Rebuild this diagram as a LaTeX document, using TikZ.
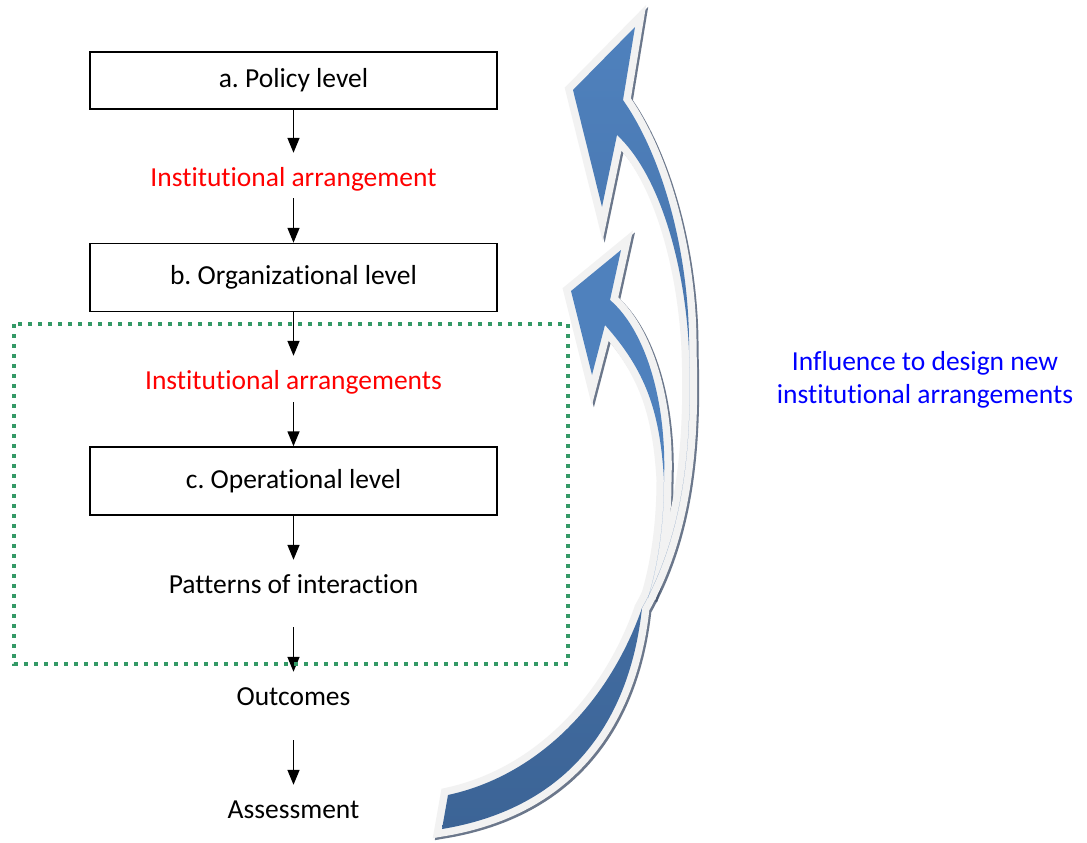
\documentclass[tikz,border=0pt]{standalone}
\usepackage{fontspec}
\setmainfont{Carlito}[Ligatures=NoCommon, RawFeature={-liga;-clig;-calt;-dlig}]
\frenchspacing
\usetikzlibrary{arrows.meta}
\definecolor{boxgreen}{RGB}{51,153,102}
\definecolor{arrtop}{RGB}{79,129,189}
\definecolor{arrbot}{RGB}{60,100,150}
\definecolor{glowc}{RGB}{242,242,242}
\definecolor{shadowc}{RGB}{70,85,110}

% outlines of the two curved feedback arrows (pixel coordinates)
\newcommand{\bigarrowpath}{(635,27) -- (623,100) .. controls (665,160) and (690,260) .. (689,350) .. controls (693,460) and (680,540) .. (642,608) .. controls (630,720) and (570,808) .. (442,829) -- (448,795) .. controls (540,775) and (610,700) .. (642,608) .. controls (680,540) and (693,460) .. (689,350) .. controls (685,265) and (660,175) .. (617,135) -- (602,207) -- (573,90) -- cycle}
\newcommand{\smallarrowpath}{(621,250) -- (610,300) .. controls (645,330) and (667,400) .. (664,480) .. controls (664,525) and (658,565) .. (648,598) .. controls (658,565) and (664,525) .. (664,480) .. controls (660,410) and (645,370) .. (605,325) -- (592,375) -- (571,291) -- cycle}

\begin{document}
\begin{tikzpicture}[x=1pt, y=-1pt,
  font=\fontsize{27.5}{33}\selectfont,
  lvlbox/.style={draw, line width=1.5, minimum width=407, minimum height=68, inner sep=0},
  plaintxt/.style={inner sep=0, minimum height=54, text height=20, text depth=7},
  redtxt/.style={plaintxt, text=red},
  conn/.style={-{Triangle[length=15pt,width=12pt]}, line width=1.5},
  arrshadow/.style={draw=shadowc, line width=15, opacity=.8},
  arrglow/.style={draw=glowc, line width=15}]
\useasboundingbox[fill=white] (0,0) rectangle (1087,843);

\node[lvlbox, minimum height=57] (pol) at (293.5,80.5) {a. Policy level};
\node[redtxt] (ia1) at (293.5,180) {Institutional arrangement};
\node[lvlbox] (org) at (293.5,277.5) {b. Organizational level};
\node[redtxt] (ia2) at (293.5,383) {Institutional arrangements};
\node[lvlbox] (ope) at (293.5,481) {c. Operational level};
\node[plaintxt] (pat) at (293.5,587) {Patterns of interaction};
\node[plaintxt] (outc) at (293.5,699) {Outcomes};
\node[plaintxt] (asse) at (293.5,812) {Assessment};

\draw[conn] (pol.south) -- (ia1.north);
\draw[conn, shorten <=-9pt] (ia1.south) -- (org.north);
\draw[conn] (org.south) -- (ia2.north);
\draw[conn, shorten <=-8pt] (ia2.south) -- (ope.north);
\draw[conn] (ope.south) -- (pat.north);
\draw[conn, shorten <=13pt] (pat.south) -- (outc.north);
\draw[conn, shorten <=14pt] (outc.south) -- (asse.north);

% dotted frame round the operational part
\draw[boxgreen, line width=4, dash pattern=on 4pt off 6pt] (14,324) rectangle (568,664);

% feedback arrows
\begin{scope}[shift={(2,2)}]
\draw[arrshadow] \bigarrowpath;
\draw[arrshadow] \smallarrowpath;
\end{scope}
\draw[arrglow] \bigarrowpath;
\draw[arrglow] \smallarrowpath;
\shade[top color=arrtop, middle color=arrtop, bottom color=arrbot] \bigarrowpath;
\fill[arrtop] \smallarrowpath;

\node[text=blue, align=center] (infl) at (925,380) {Influence to design new\\institutional arrangements};
\end{tikzpicture}
\end{document}
